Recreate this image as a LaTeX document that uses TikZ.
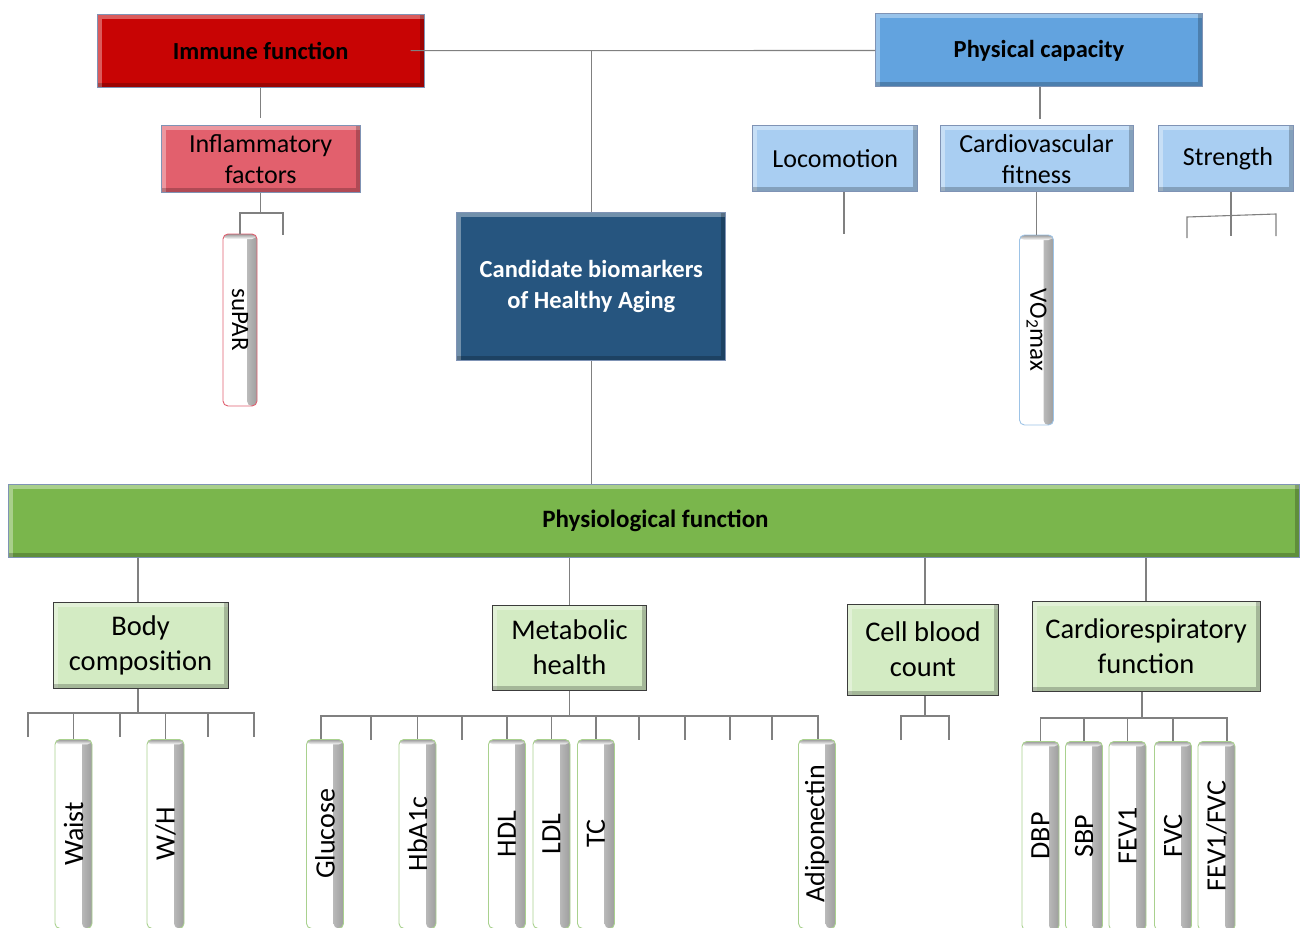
\documentclass[tikz,border=0pt]{standalone}
\usepackage{fontspec}
\usepackage{graphicx}
\setmainfont{Carlito}
\usetikzlibrary{calc}
\definecolor{immred}{HTML}{C80404}
\definecolor{inflpink}{HTML}{E2606D}
\definecolor{physblue}{HTML}{62A3DF}
\definecolor{lightblue}{HTML}{A9CEF2}
\definecolor{navy}{HTML}{26557F}
\definecolor{physgreen}{HTML}{7AB64C}
\definecolor{lightgreen}{HTML}{D3EBC3}
\definecolor{bordblue}{HTML}{7F93B5}
\definecolor{bordgray}{HTML}{3C3C3C}
\definecolor{linegray}{HTML}{808080}
\definecolor{leafgreen}{HTML}{A9D18E}
\definecolor{leafred}{HTML}{E06070}
\definecolor{leafblue}{HTML}{9DC3E6}
\begin{document}
\begin{tikzpicture}[x=1pt,y=-1pt,
  bevel/.style={path picture={
    \draw[white,opacity=0.35,line width=9pt] (path picture bounding box.south west) |- (path picture bounding box.north east);
    \draw[black,opacity=0.22,line width=9pt] (path picture bounding box.south west) -| (path picture bounding box.north east);}},
  box/.style={draw,line width=1pt,inner sep=0pt,align=center,bevel},
  boldbox/.style={box,draw=bordblue,font=\bfseries\fontsize{24.5}{31}\selectfont},
  midbox/.style={box,draw=bordblue,fill=lightblue,font=\fontsize{26}{31}\selectfont,minimum height=66pt},
  subbox/.style={box,draw=bordgray,fill=lightgreen,font=\fontsize{28.5}{35}\selectfont},
  leafshadow/.style={path picture={
    \shade[left color=white,right color=black!38] ([xshift=-10pt]path picture bounding box.north east) rectangle (path picture bounding box.south east);
    \shade[top color=black!40,bottom color=white] (path picture bounding box.north west) rectangle ([yshift=-5pt]path picture bounding box.north east);}},
  leaf/.style={draw=leafgreen,fill=white,rounded corners=5pt,line width=0.9pt,inner sep=0pt,
    minimum width=37pt,minimum height=189pt,anchor=north,font=\fontsize{28}{30}\selectfont,leafshadow},
  topleaf/.style={fill=white,rounded corners=5pt,line width=0.9pt,inner sep=0pt,
    font=\fontsize{25}{30}\selectfont,leafshadow},
  conn/.style={draw=linegray,line width=1.1pt}
]
\useasboundingbox (0,0) rectangle (1300,928);
\clip (0,0) rectangle (1300,928);

% ---------- top level ----------
\node[boldbox,fill=immred,minimum width=327pt,minimum height=73pt] (immune) at (260.7,50.7) {Immune function};
\node[boldbox,fill=physblue,minimum width=327pt,minimum height=73pt] (phys) at (1039,50.5) {Physical capacity};
\node[boldbox,fill=navy,text=white,minimum width=269pt,minimum height=148pt] (cand) at (591.3,286.7) {Candidate biomarkers\\of Healthy Aging};
\node[box,draw=bordblue,fill=inflpink,minimum width=199pt,minimum height=67pt,font=\fontsize{26}{31}\selectfont] (inflam) at (260.7,158.7) {Inflammatory\\factors};
\node[midbox,minimum width=165pt] (loco) at (835.2,158.7) {Locomotion};
\node[midbox,minimum width=193pt] (cardio) at (1036.5,158.7) {Cardiovascular\\fitness};
\node[midbox,minimum width=135pt] (strength) at (1225.5,158.7) {\hspace*{5pt}Strength};
\node[topleaf,draw=leafred,minimum width=34pt,minimum height=172pt] (supar) at (240,320) {\rotatebox{-90}{suPAR}};
\node[topleaf,draw=leafblue,minimum width=34pt,minimum height=190pt] (vo2) at (1036.5,330) {\rotatebox{-90}{VO\textsubscript{2}max}};

\node[boldbox,fill=physgreen,minimum width=1291pt,minimum height=73pt,font=\bfseries\fontsize{25}{31}\selectfont] (physio) at (653.5,520.5) {\hspace*{4pt}Physiological function};

% ---------- second level (physiological) ----------
\node[subbox,minimum width=175pt,minimum height=86pt] (body) at (140.5,645) {Body\\composition};
\node[subbox,minimum width=154pt,minimum height=85pt] (metab) at (569.5,647.5) {Metabolic\\health};
\node[subbox,minimum width=151pt,minimum height=91pt] (cell) at (923,649.5) {Cell blood\\count};
\node[subbox,minimum width=228pt,minimum height=90pt] (cresp) at (1146,646.7) {Cardiorespiratory\\function};

% ---------- leaves ----------
\node[leaf] (waist) at (73.5,739) {\rotatebox{90}{Waist}};
\node[leaf] (wh) at (165.5,739) {\rotatebox{90}{W/H}};
\node[leaf] (glucose) at (325,739) {\rotatebox{90}{Glucose}};
\node[leaf] (hba1c) at (417.5,739) {\rotatebox{90}{HbA1c}};
\node[leaf] (hdl) at (507,739) {\rotatebox{90}{HDL}};
\node[leaf] (ldl) at (551.5,739) {\rotatebox{90}{LDL}};
\node[leaf] (tc) at (596,739) {\rotatebox{90}{TC}};
\node[leaf] (adipo) at (817,739) {\rotatebox{90}{Adiponectin}};
\node[leaf] (dbp) at (1040.5,741) {\rotatebox{90}{DBP}};
\node[leaf] (sbp) at (1084,741) {\rotatebox{90}{SBP}};
\node[leaf] (fev) at (1127.5,741) {\rotatebox{90}{FEV1}};
\node[leaf] (fvc) at (1173,741) {\rotatebox{90}{FVC}};
\node[leaf] (fevfvc) at (1216.5,741) {\rotatebox{90}{FEV1/FVC}};

% ---------- connectors: top ----------
\draw[conn] ($(immune.east)+(-14,0)$) -- (phys.west);
\draw[conn] (cand.north) -- (cand.north |- phys.west);
\draw[conn] (immune.south) -- ($(inflam.north)+(0,-7)$);
\coordinate (infR) at (283,213);
\coordinate (infRe) at (283,235);
\draw[conn] (inflam.south) -- (inflam.south |- infR);
\draw[conn] (supar.north) |- (infR) -- (infRe);
\coordinate (physE) at (1040,119);
\draw[conn] (physE |- phys.south) -- (physE);
\coordinate (locoE) at (844,234);
\draw[conn] (locoE |- loco.south) -- (locoE);
\draw[conn] (cardio.south) -- (vo2.north);
\coordinate (stL) at (1187,217);
\coordinate (stR) at (1276,214);
\coordinate (stM) at (1231,216);
\draw[conn] (stM |- strength.south) -- (stM) -- ($(stM)+(0,20)$);
\draw[conn] ($(stL)+(0,21)$) -- (stL) -- (stR) -- ($(stR)+(0,22)$);
\draw[conn] (cand.south) -- (cand.south |- physio.north);

% ---------- connectors: physiological ----------
\coordinate (bx) at (138,0);
\draw[conn] (physio.south -| bx) -- (body.north -| bx);
\draw[conn] (physio.south -| metab.north) -- (metab.north);
\coordinate (cx) at (925,0);
\draw[conn] (physio.south -| cx) -- (cell.north -| cx);
\draw[conn] (physio.south -| cresp.north) -- (cresp.north);

% body composition bracket
\coordinate (bL) at (28,713);
\coordinate (bR) at (254,713);
\draw[conn] (body.south -| bx) -- (bL -| bx);
\draw[conn] ($(bL)+(0,24)$) -- (bL) -- (bR) -- ($(bR)+(0,24)$);
\foreach \s in {120,208} \draw[conn] (\s,713) -- (\s,737);
\draw[conn] (waist.north |- bL) -- (waist.north);
\draw[conn] (wh.north |- bL) -- (wh.north);

% metabolic bracket
\coordinate (mL) at (321,716);
\coordinate (mR) at (818,716);
\draw[conn] (metab.south) -- (metab.south |- mL);
\draw[conn] (glucose.north -| mL) -- (mL) -- (mR) -- (adipo.north -| mR);
\foreach \s in {371,462,639,685,730,772} \draw[conn] (\s,716) -- (\s,740);
\foreach \n in {hba1c,hdl,ldl,tc} \draw[conn] (\n.north |- mL) -- (\n.north);

% cell blood count bracket
\coordinate (cL) at (901,716);
\coordinate (cR) at (949,716);
\draw[conn] (cell.south -| cx) -- (cL -| cx);
\draw[conn] ($(cL)+(0,24)$) -- (cL) -- (cR) -- ($(cR)+(0,24)$);

% cardiorespiratory bracket
\coordinate (rL) at (1040.5,718);
\coordinate (rR) at (1227,718);
\draw[conn] (cresp.south -| 1142,0) -- (1142,718);
\draw[conn] (dbp.north) -- (rL) -- (rR) -- (fevfvc.north -| rR);
\foreach \n in {sbp,fev,fvc} \draw[conn] (\n.north |- rL) -- (\n.north);
\end{tikzpicture}
\end{document}
